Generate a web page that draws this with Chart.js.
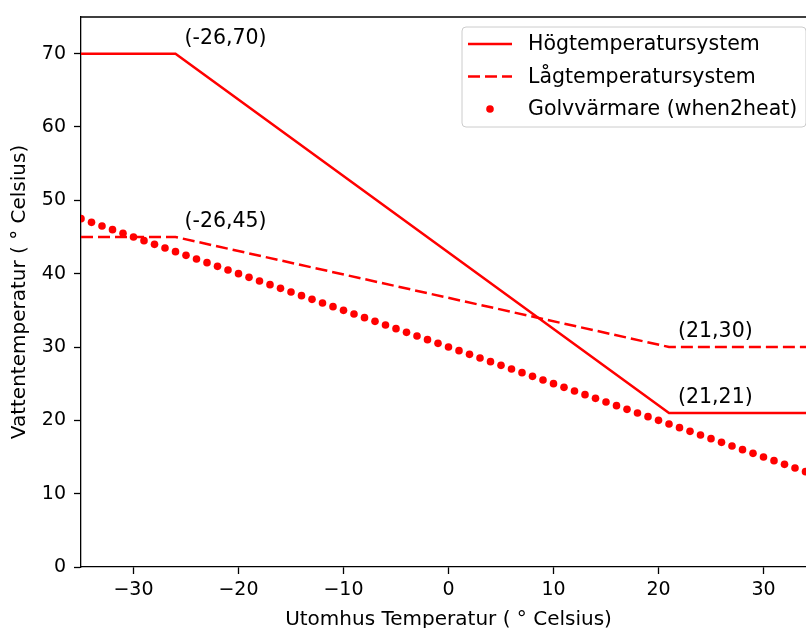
<!DOCTYPE html>
<html>
<head>
<meta charset="utf-8">
<script src="https://cdn.jsdelivr.net/npm/chart.js@4/dist/chart.umd.min.js"></script>
<style>
  html, body { margin: 0; padding: 0; background: #ffffff; overflow: hidden; }
  #wrap { position: relative; width: 830px; height: 628px; }
</style>
</head>
<body>
<div id="wrap"><canvas id="chart"></canvas></div>
<script>
// Heating curves: supply water temperature versus outdoor temperature
const highTempX = [-35, -26, 21, 35];
const highTempY = [70, 70, 21, 21];

const lowTempX = [-35, -26, 21, 35];
const lowTempY = [45, 45, 30, 30];

// Floor heating curve (when2heat), one point per degree
const floorX = [-35, -34, -33, -32, -31, -30, -29, -28, -27, -26, -25, -24, -23, -22, -21, -20,
  -19, -18, -17, -16, -15, -14, -13, -12, -11, -10, -9, -8, -7, -6, -5, -4, -3, -2, -1, 0,
  1, 2, 3, 4, 5, 6, 7, 8, 9, 10, 11, 12, 13, 14, 15, 16, 17, 18, 19, 20,
  21, 22, 23, 24, 25, 26, 27, 28, 29, 30, 31, 32, 33, 34, 35];
const floorY = [47.5, 47, 46.5, 46, 45.5, 45, 44.5, 44, 43.5, 43, 42.5, 42, 41.5, 41, 40.5, 40,
  39.5, 39, 38.5, 38, 37.5, 37, 36.5, 36, 35.5, 35, 34.5, 34, 33.5, 33, 32.5, 32, 31.5, 31, 30.5, 30,
  29.5, 29, 28.5, 28, 27.5, 27, 26.5, 26, 25.5, 25, 24.5, 24, 23.5, 23, 22.5, 22, 21.5, 21, 20.5, 20,
  19.5, 19, 18.5, 18, 17.5, 17, 16.5, 16, 15.5, 15, 14.5, 14, 13.5, 13, 12.5];

// Break points labelled on the chart
const breakX = [-26, -26, 21, 21];
const breakY = [70, 45, 30, 21];

const seriesLabels = ['Högtemperatursystem', 'Lågtemperatursystem', 'Golvvärmare (when2heat)'];

const xTickValues = [-30, -20, -10, 0, 10, 20, 30];
const yTickValues = [0, 10, 20, 30, 40, 50, 60, 70];

const xTitle = 'Utomhus Temperatur ( \u00B0 Celsius)';
const yTitle = 'Vattentemperatur ( \u00B0 Celsius)';

const RED = '#ff0000';
const FONT = "'DejaVu Sans', 'Liberation Sans', sans-serif";

const toPoints = (xs, ys) => xs.map((x, i) => ({ x: x, y: ys[i] }));
const fmtTick = v => (v < 0 ? '\u2212' + Math.abs(v) : String(v));

// Frame around the plotting area (top and right spines)
const framePlugin = {
  id: 'frame',
  afterDatasetsDraw(chart) {
    const { ctx, chartArea: a } = chart;
    ctx.save();
    ctx.strokeStyle = '#000000';
    ctx.lineWidth = 1.3;
    ctx.beginPath();
    ctx.moveTo(a.left, a.top);
    ctx.lineTo(a.right, a.top);
    ctx.lineTo(a.right, a.bottom);
    ctx.stroke();
    ctx.restore();
  }
};

// Coordinate labels next to the break points
const breakLabelPlugin = {
  id: 'breakLabels',
  afterDatasetsDraw(chart) {
    const { ctx, scales } = chart;
    ctx.save();
    ctx.font = '20.5px ' + FONT;
    ctx.fillStyle = '#000000';
    ctx.textAlign = 'left';
    ctx.textBaseline = 'alphabetic';
    breakX.forEach((x, i) => {
      const px = scales.x.getPixelForValue(x);
      const py = scales.y.getPixelForValue(breakY[i]);
      ctx.fillText('(' + x + ',' + breakY[i] + ')', px + 9, py - 10);
    });
    ctx.restore();
  }
};

// Boxed legend in the upper right corner
const boxLegendPlugin = {
  id: 'boxLegend',
  afterDraw(chart) {
    const { ctx, chartArea: a } = chart;
    const pad = 10;
    const right = a.right - pad;
    const left = right - 344;
    const top = a.top + pad;
    const height = 100;
    const r = 4;
    ctx.save();
    ctx.beginPath();
    ctx.moveTo(left + r, top);
    ctx.lineTo(right - r, top);
    ctx.arcTo(right, top, right, top + r, r);
    ctx.lineTo(right, top + height - r);
    ctx.arcTo(right, top + height, right - r, top + height, r);
    ctx.lineTo(left + r, top + height);
    ctx.arcTo(left, top + height, left, top + height - r, r);
    ctx.lineTo(left, top + r);
    ctx.arcTo(left, top, left + r, top, r);
    ctx.closePath();
    ctx.fillStyle = 'rgba(255,255,255,0.8)';
    ctx.fill();
    ctx.strokeStyle = '#cccccc';
    ctx.lineWidth = 1;
    ctx.stroke();

    ctx.font = '20.5px ' + FONT;
    ctx.textAlign = 'left';
    ctx.textBaseline = 'middle';
    chart.data.datasets.forEach((ds, i) => {
      const cy = top + 17 + i * 32.5;
      const hx0 = left + 6;
      const hx1 = left + 50;
      if (ds.showLine) {
        ctx.strokeStyle = ds.borderColor;
        ctx.lineWidth = ds.borderWidth;
        ctx.setLineDash(ds.borderDash || []);
        ctx.beginPath();
        ctx.moveTo(hx0, cy);
        ctx.lineTo(hx1, cy);
        ctx.stroke();
        ctx.setLineDash([]);
      } else {
        ctx.fillStyle = ds.pointBackgroundColor;
        ctx.beginPath();
        ctx.arc((hx0 + hx1) / 2, cy, ds.pointRadius, 0, Math.PI * 2);
        ctx.fill();
      }
      ctx.fillStyle = '#000000';
      ctx.fillText(ds.label, left + 66, cy + 1);
    });
    ctx.restore();
  }
};

new Chart(document.getElementById('chart'), {
  type: 'scatter',
  data: {
    datasets: [
      {
        label: seriesLabels[0],
        data: toPoints(highTempX, highTempY),
        showLine: true,
        borderColor: RED,
        borderWidth: 2.5,
        pointRadius: 0,
        order: 3
      },
      {
        label: seriesLabels[1],
        data: toPoints(lowTempX, lowTempY),
        showLine: true,
        borderColor: RED,
        borderWidth: 2.5,
        borderDash: [12, 5],
        pointRadius: 0,
        order: 2
      },
      {
        label: seriesLabels[2],
        data: toPoints(floorX, floorY),
        showLine: false,
        pointRadius: 3.8,
        pointBorderWidth: 0,
        pointBackgroundColor: RED,
        pointBorderColor: RED,
        order: 1
      }
    ]
  },
  options: {
    responsive: true,
    maintainAspectRatio: false,
    animation: false,
    events: [],
    layout: { padding: { top: 17, right: 14, left: 0, bottom: 0 } },
    plugins: {
      legend: { display: false },
      tooltip: { enabled: false },
      title: { display: false }
    },
    scales: {
      x: {
        type: 'linear',
        position: 'bottom',
        min: -35,
        max: 35,
        afterBuildTicks: s => { s.ticks = xTickValues.map(v => ({ value: v })); },
        afterFit: s => { s.height = 61; s.paddingLeft = 0; s.paddingRight = 0; },
        grid: { display: true, drawOnChartArea: false, drawTicks: true, tickLength: 7, tickWidth: 1.3, tickColor: '#000000' },
        border: { display: true, color: '#000000', width: 1.3 },
        ticks: {
          color: '#000000',
          padding: 5,
          maxRotation: 0,
          font: { family: FONT, size: 19 },
          callback: v => fmtTick(v)
        },
        title: {
          display: true,
          text: xTitle,
          color: '#000000',
          font: { family: FONT, size: 20, lineHeight: '16px' },
          padding: { top: 0, bottom: 0 }
        }
      },
      y: {
        type: 'linear',
        position: 'left',
        min: 0,
        max: 75,
        afterBuildTicks: s => { s.ticks = yTickValues.map(v => ({ value: v })); },
        afterFit: s => { s.width = 81; s.paddingTop = 0; s.paddingBottom = 0; },
        grid: { display: true, drawOnChartArea: false, drawTicks: true, tickLength: 7, tickWidth: 1.3, tickColor: '#000000' },
        border: { display: true, color: '#000000', width: 1.3 },
        ticks: {
          color: '#000000',
          padding: 8,
          font: { family: FONT, size: 19 },
          callback: v => fmtTick(v)
        },
        title: {
          display: true,
          text: yTitle,
          color: '#000000',
          font: { family: FONT, size: 20, lineHeight: '20px' },
          padding: { top: 10, bottom: 0 }
        }
      }
    }
  },
  plugins: [framePlugin, breakLabelPlugin, boxLegendPlugin]
});
</script>
</body>
</html>
